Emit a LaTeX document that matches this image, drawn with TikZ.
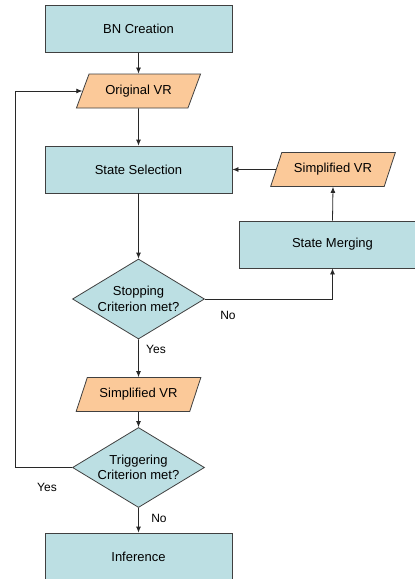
\documentclass[tikz,border=0pt]{standalone}
\usepackage{fontspec}
\setmainfont{Liberation Sans}
\usetikzlibrary{shapes.geometric,arrows.meta}

\definecolor{procfill}{RGB}{188,223,227}
\definecolor{datafill}{RGB}{251,201,153}
\definecolor{edgegray}{RGB}{64,64,64}
\definecolor{linegray}{RGB}{40,40,40}

\tikzset{
  base/.style={draw=edgegray, line width=0.8pt, inner sep=0pt, align=center,
               font=\fontsize{13}{15.5}\selectfont},
  procbox/.style={base, rectangle, fill=procfill, minimum width=187pt, minimum height=47pt},
  databox/.style={base, trapezium, trapezium left angle=55, trapezium right angle=125,
                  trapezium stretches=true, fill=datafill,
                  minimum width=125pt, minimum height=34pt},
  decision/.style={base, diamond, aspect=1.65, fill=procfill,
                   minimum width=132pt, minimum height=80pt},
  flow/.style={draw=linegray, line width=0.8pt, -{Latex[length=6pt,width=5pt]}},
  lbl/.style={font=\fontsize{12}{14}\selectfont, inner sep=0pt}
}

\begin{document}
\begin{tikzpicture}[x=1pt,y=1pt]
  \fill[white] (0,0) rectangle (415,-579);
  \clip (0,0) rectangle (415,-579);

  % main column
  \node[procbox] (bn)    at (138.5,-29)    {BN Creation};
  \node[databox] (orig)  at (138.5,-91)    {Original VR};
  \node[procbox] (sel)   at (138.5,-169.5) {State Selection};
  \node[decision] (stop) at (138.5,-299)   {Stopping\\Criterion met?};
  \node[databox] (simpa) at (138.5,-394.5) {Simplified VR};
  \node[decision] (trig) at (138.5,-467.5) {Triggering\\Criterion met?};
  \node[procbox] (inf)   at (138.5,-556.5) {Inference};

  % merging branch
  \node[procbox] (merge) at (332.5,-244.5) {State Merging};
  \node[databox] (simpb) at (333,-169.5)   {Simplified VR};

  % return path on the left
  \coordinate (loopx) at (15,0);

  % connectors
  \draw[flow] (bn.south) -- (orig.north);
  \draw[flow] (orig.south) -- (sel.north);
  \draw[flow] (sel.south) -- (stop.north);
  \draw[flow] (stop.east) -| (merge.south);
  \draw[flow] (merge.north) -- (simpb.south);
  \draw[flow] (simpb.left side) -- (sel.east);
  \draw[flow] (stop.south) -- (simpa.north);
  \draw[flow] (simpa.south) -- (trig.north);
  \draw[flow] (trig.south) -- (inf.north);
  \draw[flow] (trig.west) -- (trig.west -| loopx) -- (orig.left side -| loopx) -- (orig.left side);

  % branch labels
  \node[lbl] (lno1)  at (228,-315) {No};
  \node[lbl] (lyes1) at (156,-349) {Yes};
  \node[lbl] (lyes2) at (47,-487)  {Yes};
  \node[lbl] (lno2)  at (159,-518) {No};
\end{tikzpicture}
\end{document}
